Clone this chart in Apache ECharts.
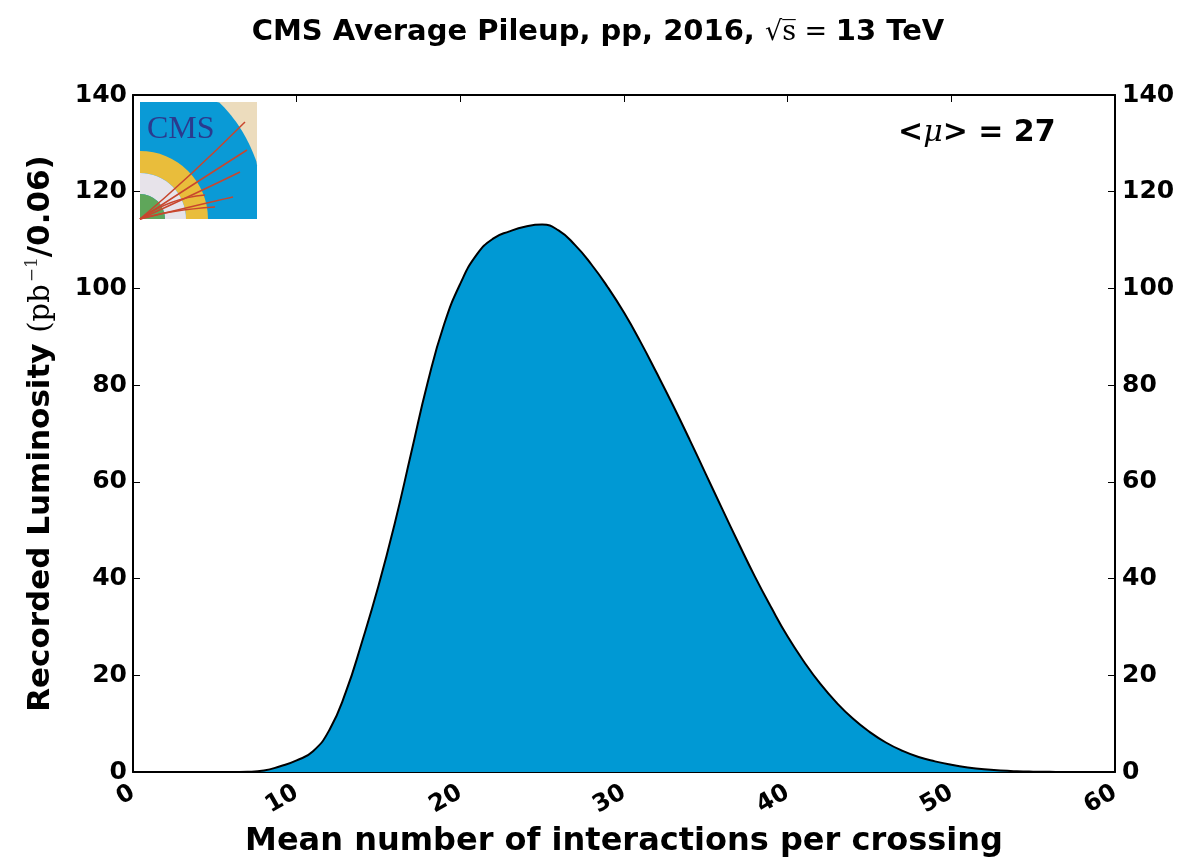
<!DOCTYPE html>
<html>
<head>
<meta charset="utf-8">
<script src="https://cdn.jsdelivr.net/npm/echarts@6/dist/echarts.min.js"></script>
<style>
html, body { margin: 0; padding: 0; background: #fff; }
#main { width: 1196px; height: 861px; }
</style>
</head>
<body>
<div id="main"></div>
<script>
// mean pileup (x) and recorded luminosity per bin (y)
var mu = [0,1,2,3,4,5,6,7,8,9,10,11,12,13,14,15,16,17,18,19,20,
          21,22,23,24,25,26,27,28,29,30,31,32,33,34,35,36,37,38,39,40,
          41,42,43,44,45,46,47,48,49,50,51,52,53,54,55,56,57,58,59,60];
var lumi = [0,0,0,0,0,0,0,0.05,0.3,1.2,2.4,4.3,8.7,16.5,27,38.5,51.5,66,80.5,92.5,101,
            107,110.3,111.8,112.8,113.2,112,109,105,100.3,95,89,82.5,75.8,68.8,61.6,54.4,47.3,40.4,34,28,
            22.8,18.2,14.3,11,8.3,6.1,4.4,3.1,2.2,1.5,0.95,0.55,0.3,0.15,0.07,0.03,0,0,0,0];

var points = [];
for (var i = 0; i < mu.length; i++) points.push([mu[i], lumi[i]]);

var chart = echarts.init(document.getElementById('main'));

var font = 'DejaVu Sans';
var axisCommon = {
    axisLine: { show: true, onZero: false, lineStyle: { color: '#000', width: 2 } },
    axisTick: { show: true, inside: true, length: 7, lineStyle: { color: '#000', width: 1 } },
    splitLine: { show: false }
};

// CMS logo, drawn roughly from shapes
var LX = 140, LY = 102, LS = 117;
var bluePts = [[LX, LY + LS]];
for (var k = 0; k <= 60; k++) {
    var t = k / 60 * Math.PI / 2;
    var ex = Math.min(126 * Math.cos(t), LS);
    var ey = Math.min(150 * Math.sin(t), LS);
    bluePts.push([LX + ex, LY + LS - ey]);
}
function track(x1, y1, cx, cy) {
    return {
        type: 'bezierCurve',
        shape: { x1: LX, y1: LY + LS, cpx1: LX + cx, cpy1: LY + cy, x2: LX + x1, y2: LY + y1 },
        style: { stroke: '#c8462e', lineWidth: 1.5, fill: null }
    };
}
var logo = [
    { type: 'rect', shape: { x: LX, y: LY, width: LS, height: LS }, style: { fill: '#ecdcbd' } },
    { type: 'polygon', shape: { points: bluePts }, style: { fill: '#0a9ad6' } },
    { type: 'sector', shape: { cx: LX, cy: LY + LS, r0: 46, r: 68, startAngle: -Math.PI / 2, endAngle: 0 }, style: { fill: '#e9bd3b' } },
    { type: 'sector', shape: { cx: LX, cy: LY + LS, r0: 25, r: 46, startAngle: -Math.PI / 2, endAngle: 0 }, style: { fill: '#e7e3ea' } },
    { type: 'sector', shape: { cx: LX, cy: LY + LS, r0: 0, r: 25, startAngle: -Math.PI / 2, endAngle: 0 }, style: { fill: '#5fa65a' } },
    track(105, 20, 50, 75),
    track(107, 48, 60, 78),
    track(100, 70, 55, 92),
    track(93, 95, 62, 102),
    track(65, 93, 30, 96),
    track(75, 105, 30, 108),
    { type: 'text', x: LX + 7, y: LY + 12, style: { text: 'CMS', font: '32px "Liberation Serif"', fill: '#2b3a8e' } }
];

chart.setOption({
    animation: false,
    backgroundColor: '#fff',
    title: [{
        text: '{b|CMS Average Pileup, pp, 2016, }{m|\u221as\u0305 = }{b|13 TeV}',
        left: 'center',
        top: 13,
        textStyle: {
            rich: {
                b: { fontFamily: font, fontWeight: 'bold', fontSize: 29, color: '#000' },
                m: { fontFamily: 'DejaVu Serif', fontWeight: 'normal', fontSize: 27, color: '#000' }
            }
        }
    }, {
        text: '{b|<}{i|\u03bc}{b|> = 27}',
        left: 893,
        top: 113,
        textStyle: {
            rich: {
                b: { fontFamily: font, fontWeight: 'bold', fontSize: 30, color: '#000' },
                i: { fontFamily: 'DejaVu Serif', fontStyle: 'italic', fontWeight: 'normal', fontSize: 30, color: '#000' }
            }
        }
    }],
    grid: { left: 133, right: 81, top: 95, bottom: 89, containLabel: false, outerBoundsMode: 'none' },
    xAxis: [
        Object.assign({
            type: 'value', min: 0, max: 60, interval: 10, position: 'bottom',
            name: 'Mean number of interactions per crossing',
            nameLocation: 'middle', nameGap: 54,
            nameTextStyle: { fontFamily: font, fontWeight: 'bold', fontSize: 32, color: '#000' },
            axisLabel: { rotate: 30, margin: 19, fontFamily: font, fontWeight: 'bold', fontSize: 24, color: '#000' }
        }, axisCommon),
        Object.assign({
            type: 'value', min: 0, max: 60, interval: 10, position: 'top',
            axisLabel: { show: false }
        }, axisCommon)
    ],
    yAxis: [
        Object.assign({
            type: 'value', min: 0, max: 140, interval: 20, position: 'left',
            name: '{b|Recorded Luminosity }{s|(pb}{sup|\u22121}{b|/0.06)}',
            nameLocation: 'middle', nameGap: 75,
            nameTextStyle: {
                rich: {
                    b: { fontFamily: font, fontWeight: 'bold', fontSize: 31, color: '#000', lineHeight: 34 },
                    s: { fontFamily: 'DejaVu Serif', fontSize: 29, color: '#000', lineHeight: 34 },
                    sup: { fontFamily: 'DejaVu Serif', fontSize: 17, color: '#333', lineHeight: 34, verticalAlign: 'top', padding: [0, 0, 16, 2] }
                }
            },
            axisLabel: { margin: 6, fontFamily: font, fontWeight: 'bold', fontSize: 25, color: '#000' }
        }, axisCommon),
        Object.assign({
            type: 'value', min: 0, max: 140, interval: 20, position: 'right',
            axisLabel: { margin: 7, fontFamily: font, fontWeight: 'bold', fontSize: 25, color: '#000' }
        }, axisCommon)
    ],
    series: [{
        type: 'line',
        xAxisIndex: 0,
        yAxisIndex: 0,
        data: points,
        smooth: 0.5,
        showSymbol: false,
        lineStyle: { color: '#000', width: 2 },
        areaStyle: { color: '#0099d4', opacity: 1 },
        z: 1
    }],
    graphic: logo
});
</script>
</body>
</html>
